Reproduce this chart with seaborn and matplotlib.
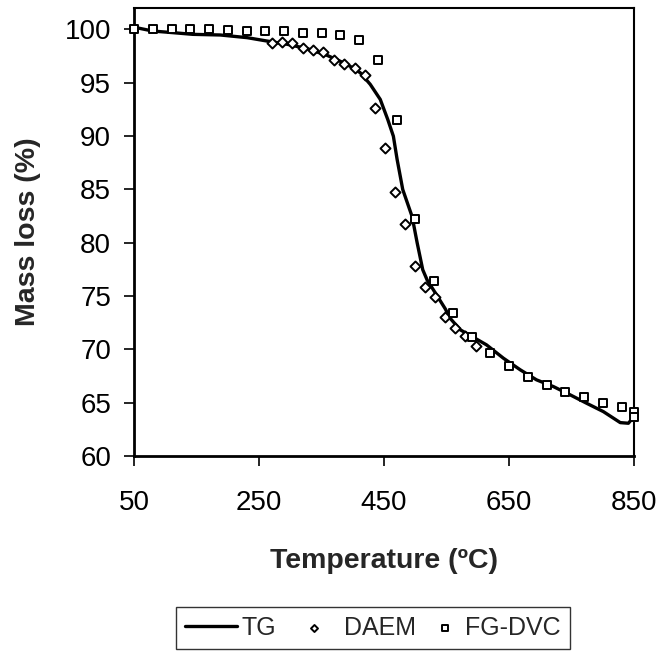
import matplotlib
matplotlib.use("Agg")
import matplotlib.pyplot as plt
import seaborn as sns
import pandas as pd

# ---- data ----
tg_temp = [50, 80, 112, 144, 188, 231, 263, 295, 327, 359, 391, 412, 428, 444,
           456, 465, 471, 480, 495, 503, 512, 519, 532, 548, 556, 572, 582, 614,
           641, 668, 694, 721, 748, 774, 801, 828, 841, 850]
tg_mass = [100.2, 99.84, 99.69, 99.53, 99.47, 99.22, 98.9, 98.6, 98.19, 97.56,
           96.71, 95.93, 94.84, 93.43, 91.55, 89.98, 87.8, 84.98, 82.44, 80.0,
           77.46, 76.5, 75.3, 73.8, 72.9, 71.83, 71.5, 70.42, 69.17, 68.08,
           67.14, 66.51, 65.73, 64.95, 64.16, 63.13, 63.07, 63.7]

daem_temp = [270, 287, 303, 320, 337, 353, 370, 386, 403, 419, 435, 451, 467,
             483, 499, 515, 531, 548, 564, 580, 597]
daem_mass = [98.75, 98.81, 98.69, 98.28, 98.08, 97.89, 97.14, 96.78, 96.36,
             95.68, 92.65, 88.92, 84.79, 81.78, 77.84, 75.87, 74.93, 73.05,
             72.0, 71.27, 70.33]

fg_temp = [50, 80, 110, 140, 170, 200, 230, 260, 290, 320, 350, 380, 410, 440,
           470, 500, 530, 560, 590, 620, 650, 680, 710, 740, 770, 800, 830,
           850, 850]
fg_mass = [100.07, 100.07, 100.07, 100.0, 100.0, 99.9, 99.84, 99.84, 99.84,
           99.7, 99.7, 99.5, 98.97, 97.09, 91.48, 82.25, 76.37, 73.43, 71.17,
           69.67, 68.45, 67.42, 66.67, 66.01, 65.54, 64.98, 64.6, 64.13, 63.66]

x_ticks = [50, 250, 450, 650, 850]
y_ticks = [60, 65, 70, 75, 80, 85, 90, 95, 100]

series_labels = ["TG", "DAEM", "FG-DVC"]
x_label = "Temperature (ºC)"
y_label = "Mass loss (%)"

# ---- style ----
sns.set_style("ticks")
plt.rcParams["font.family"] = ["Liberation Sans", "DejaVu Sans"]

W, H = 663, 653
fig = plt.figure(figsize=(W / 100, H / 100), dpi=100)
L, R, T, B = 134, 634, 8, 456
ax = fig.add_axes([L / W, 1 - B / H, (R - L) / W, (B - T) / H])

tg = pd.DataFrame({"t": tg_temp, "m": tg_mass})
da = pd.DataFrame({"t": daem_temp, "m": daem_mass})
fg = pd.DataFrame({"t": fg_temp, "m": fg_mass})

sns.lineplot(data=tg, x="t", y="m", ax=ax, color="black", linewidth=2.4,
             sort=False, estimator=None, label=series_labels[0], zorder=2)
sns.scatterplot(data=da, x="t", y="m", ax=ax, marker="D", s=26,
                facecolor="white", edgecolor="black", linewidth=1.4,
                label=series_labels[1], zorder=3, clip_on=False)
sns.scatterplot(data=fg, x="t", y="m", ax=ax, marker="s", s=36,
                facecolor="white", edgecolor="black", linewidth=1.4,
                label=series_labels[2], zorder=4, clip_on=False)

ax.set_xlim(50, 850)
ax.set_ylim(60, 102)
ax.set_xticks(x_ticks)
ax.set_yticks(y_ticks)
ax.tick_params(axis="both", direction="out", length=7.5, width=1.2,
               labelsize=20, color="black", labelcolor="black")
ax.tick_params(axis="x", pad=17)
ax.tick_params(axis="y", pad=9)
for s in ax.spines.values():
    s.set_visible(True)
    s.set_color("black")
    s.set_linewidth(1.5)
ax.spines["left"].set_linewidth(2)
ax.spines["bottom"].set_linewidth(2)

ax.set_xlabel(x_label, fontsize=20.5, fontweight="bold")
ax.set_ylabel(y_label, fontsize=20.5, fontweight="bold")
ax.xaxis.set_label_coords(0.5, -0.205)
ax.yaxis.set_label_coords(-0.186, 0.5)

handles, labels = ax.get_legend_handles_labels()
ax.get_legend().remove()
leg_fs = 18
leg = fig.legend(handles, labels, loc="upper left",
                 bbox_to_anchor=(176 / W, 1 - 607 / H), ncol=3, fontsize=leg_fs,
                 frameon=True, fancybox=False, borderaxespad=0,
                 handlelength=2.1, handletextpad=0.15, columnspacing=0.5,
                 markerscale=0.7, borderpad=0.35)
leg.get_frame().set_edgecolor("black")
leg.get_frame().set_linewidth(1.0)

# narrower handle box for the last (marker-only) entry, as in the reference
try:
    cols = leg._legend_handle_box.get_children()
    entry = cols[2].get_children()[0]
    hbox = entry.get_children()[0]
    hbox.width = hbox.width * 0.62
    h = leg.legend_handles[2]
    offs = h.get_offsets()
    offs[:, 0] -= 7.0
    h.set_offsets(offs)
except Exception:
    pass

fig.savefig("out.png", dpi=100)
